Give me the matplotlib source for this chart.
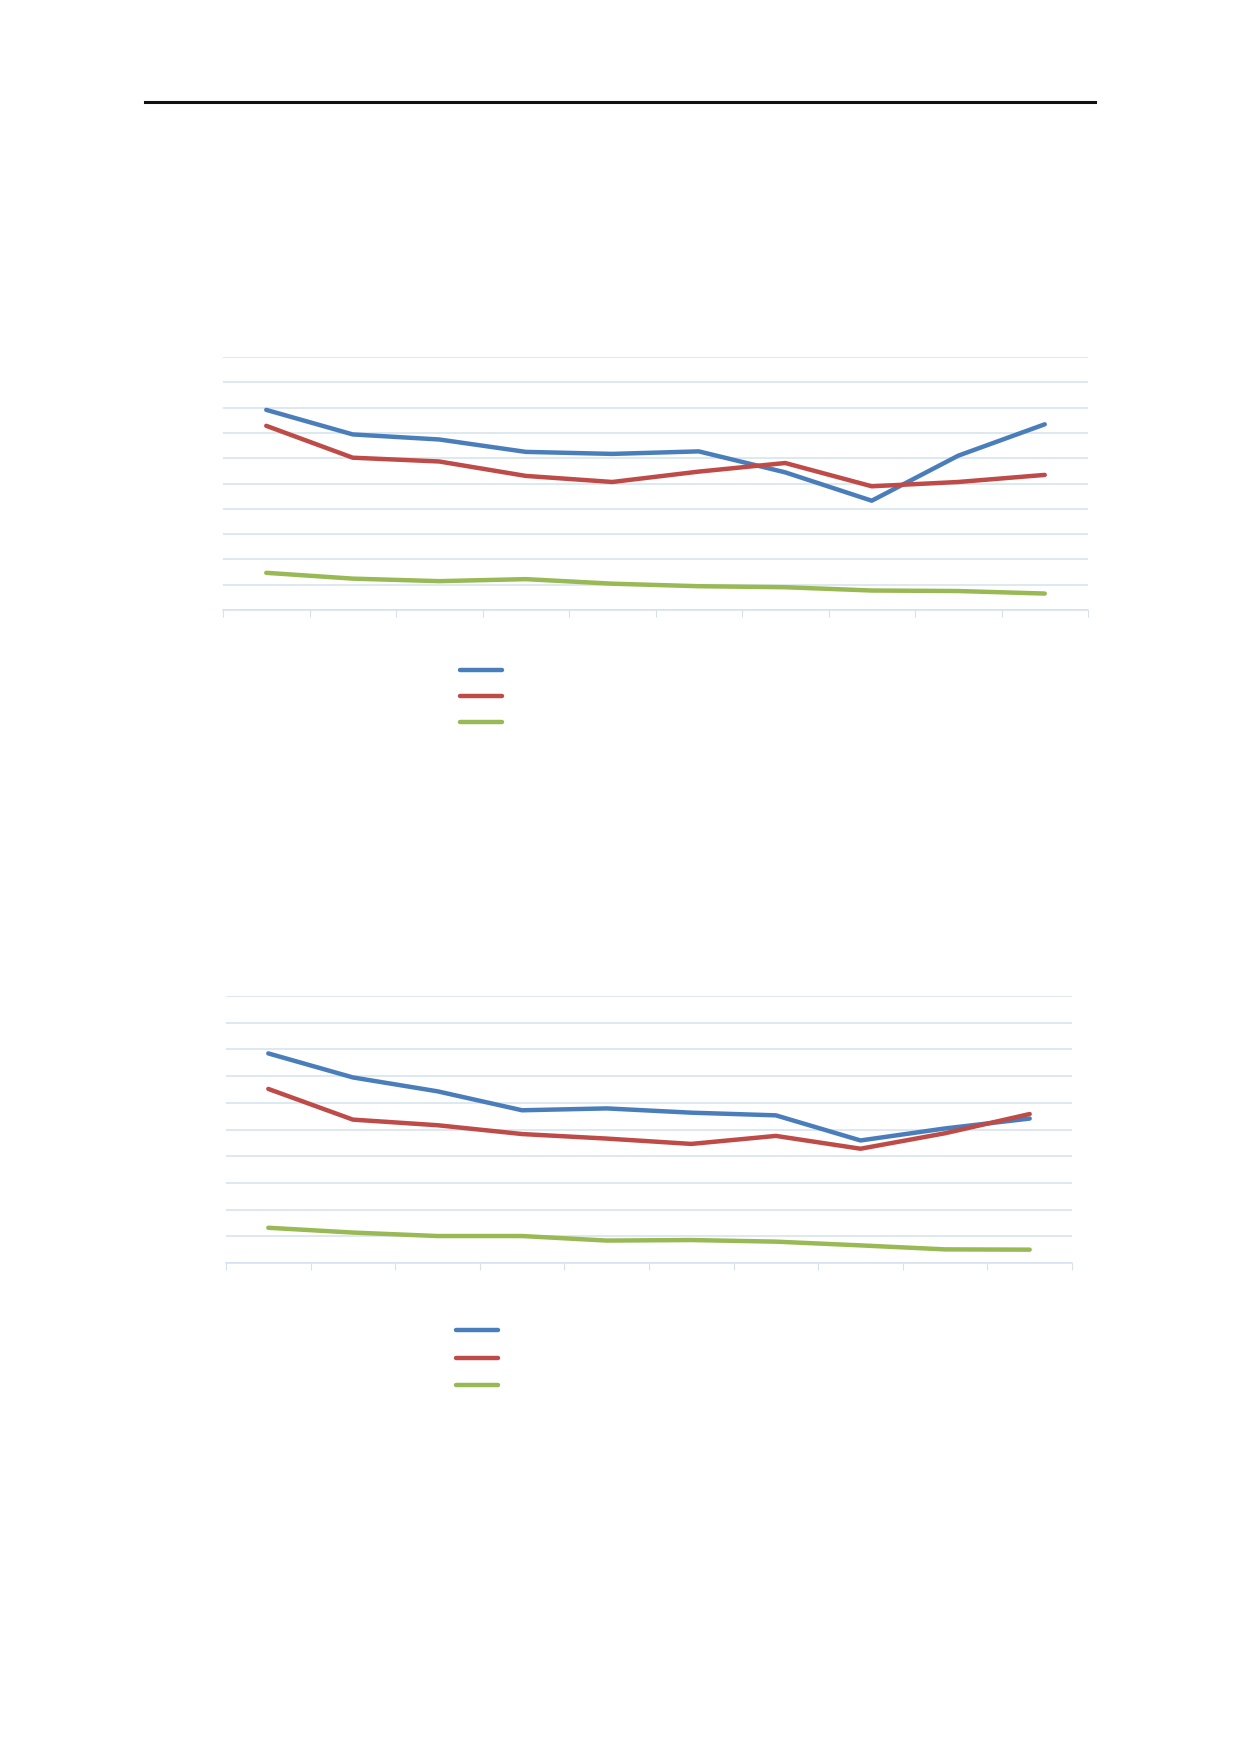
import matplotlib.pyplot as plt
import numpy as np
from matplotlib.lines import Line2D

# values, in gridline units (axis 0..10)
cats = list(range(10))

top_blue = [7.91, 6.94, 6.74, 6.25, 6.17, 6.27, 5.44, 4.32, 6.10, 7.34]
top_red = [7.28, 6.02, 5.87, 5.30, 5.06, 5.47, 5.81, 4.89, 5.06, 5.34]
top_green = [1.47, 1.24, 1.14, 1.22, 1.04, 0.94, 0.90, 0.77, 0.75, 0.65]

bot_blue = [7.85, 6.95, 6.43, 5.72, 5.79, 5.63, 5.53, 4.59, 5.04, 5.41]
bot_red = [6.52, 5.37, 5.16, 4.83, 4.66, 4.46, 4.76, 4.28, 4.86, 5.58]
bot_green = [1.32, 1.14, 1.01, 1.01, 0.84, 0.86, 0.80, 0.66, 0.51, 0.50]

blue = '#4a7ebb'
red = '#be4b48'
green = '#98b954'
grid = '#d5e1ee'

fig = plt.figure(figsize=(12.4, 17.54), dpi=100)

# header rule
fig.add_artist(Line2D([145/1240, 1095/1240], [1-102/1754, 1-102/1754],
                      color='#111111', lw=2.2))


def draw(rect, b, r, g, leg_xy, spacing):
    ax = fig.add_axes(rect)
    x = np.array(cats)
    h1, = ax.plot(x, b, color=blue, lw=3.2, solid_capstyle='round', zorder=3)
    h2, = ax.plot(x, r, color=red, lw=3.2, solid_capstyle='round', zorder=3)
    h3, = ax.plot(x, g, color=green, lw=3.2, solid_capstyle='round', zorder=3)
    ax.set_xlim(-0.5, 9.5)
    ax.set_ylim(0, 10)
    ax.set_yticks(np.arange(0, 11, 1))
    ax.set_xticks(np.arange(-0.5, 10, 1))
    ax.grid(axis='y', color=grid, lw=1.1)
    ax.set_axisbelow(True)
    for s in ['top', 'right', 'left']:
        ax.spines[s].set_visible(False)
    ax.spines['bottom'].set_color(grid)
    ax.spines['bottom'].set_linewidth(1.1)
    ax.tick_params(axis='x', direction='out', length=5, color=grid,
                   labelbottom=False)
    ax.tick_params(axis='y', length=0, labelleft=False)
    fig.legend([h1, h2, h3], ['', '', ''], loc='upper left',
               bbox_to_anchor=leg_xy, frameon=False, fontsize=10,
               handlelength=3.0, labelspacing=spacing, borderaxespad=0,
               borderpad=0, handletextpad=0.5)
    return ax


draw([223/1240, 1-610/1754, 865/1240, 253/1754], top_blue, top_red, top_green,
     (460/1240, 1-664/1754), 0.86)
draw([226/1240, 1-1263/1754, 846/1240, 267/1754], bot_blue, bot_red, bot_green,
     (456/1240, 1-1324/1754), 0.98)

fig.savefig('out.png', dpi=100)
